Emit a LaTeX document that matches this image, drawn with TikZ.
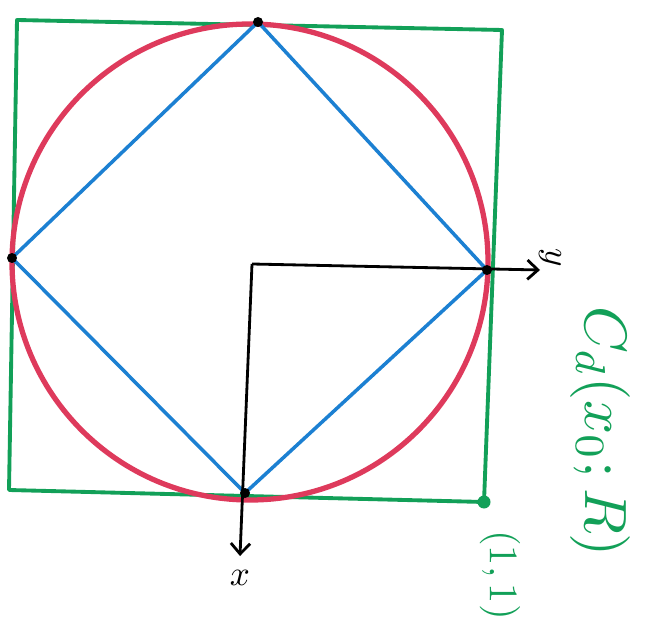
\documentclass[tikz,border=0pt]{standalone}
\usepackage{amsmath}
\usepackage{graphicx}
\usetikzlibrary{arrows.meta}
\definecolor{pgreen}{RGB}{18,160,88}
\definecolor{pred}{RGB}{222,58,92}
\definecolor{pblue}{RGB}{28,128,210}

\begin{document}
\begin{tikzpicture}[x=0.02cm,y=-0.02cm,
  sq/.style={draw=pgreen,line width=2.2pt,line join=round},
  circ/.style={draw=pred,line width=3pt},
  dia/.style={draw=pblue,line width=2pt,line join=round},
  ax/.style={-{Straight Barb[length=6pt,width=11pt]},line width=1.6pt,color=black},
  lbl/.style={inner sep=1pt},
  glbl/.style={color=pgreen,rotate=-90,inner sep=1pt}
]
\useasboundingbox (0,0) rectangle (645,624);

% corners of the square
\coordinate (tl) at (17,20);
\coordinate (tr) at (502,30);
\coordinate (br) at (484,502);
\coordinate (bl) at (9,490);

% points on the circle
\coordinate (c)  at (250,262);
\coordinate (t)  at (258,22);
\coordinate (r)  at (487,270);
\coordinate (b)  at (245,493);
\coordinate (l)  at (12,258);

% axes
\coordinate (o)    at (252,264);
\coordinate (ytip) at (540,270);
\coordinate (xtip) at (240,556);

\draw[sq] (tl) -- (tr) -- (br) -- (bl) -- cycle;
\draw[circ] (c) circle[radius=238];
\draw[dia] (t) -- (r) -- (b) -- (l) -- cycle;

\draw[ax] (o) -- (ytip);
\draw[ax] (o) -- (xtip);

% dots
\foreach \p in {t,r,b,l}
  \fill (\p) circle (5);
\fill[pgreen] (br) circle (6.5);

% labels
\node[lbl,rotate=-90] (ylab) at (550,258) {\scalebox{2}{$y$}};
\node[lbl] (xlab) at (240,578) {\scalebox{2}{$x$}};
\node[glbl] (cdlab) at (600,432) {\scalebox{3.4}{$C_d(x_0;R)$}};
\node[glbl] (pt) at (500,575) {\scalebox{2.3}{$(1,1)$}};

\end{tikzpicture}
\end{document}
